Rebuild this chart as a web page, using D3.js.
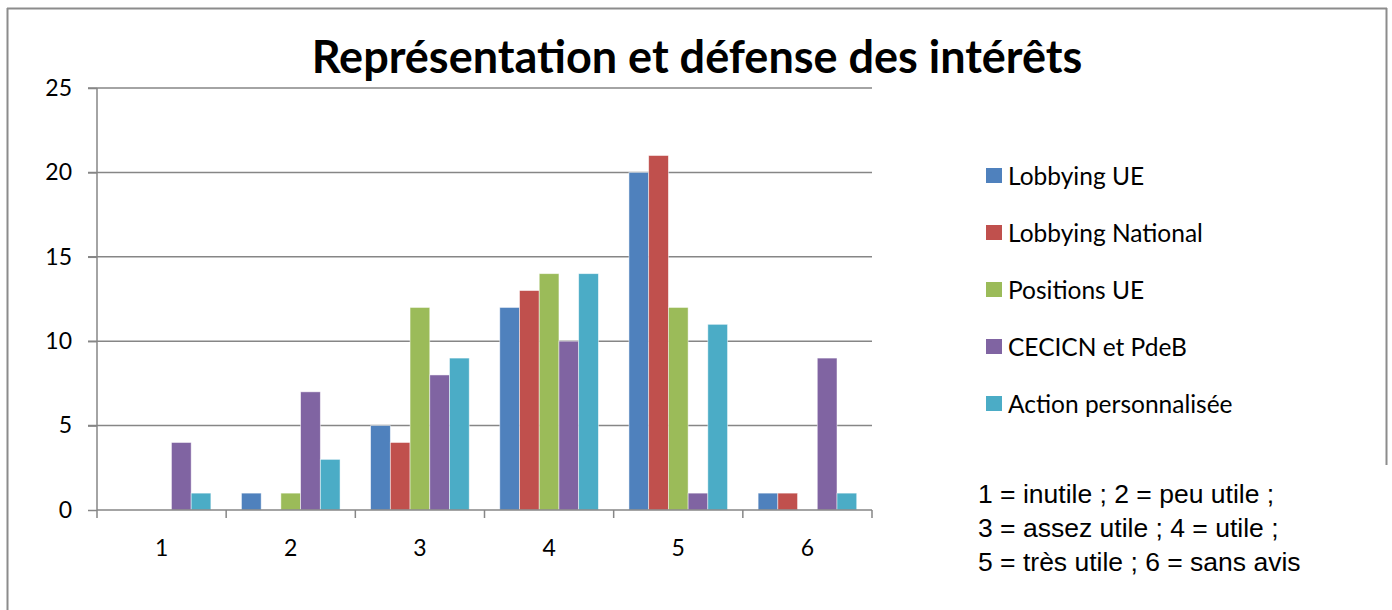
<!DOCTYPE html>
<html>
<head>
<meta charset="utf-8">
<script src="https://cdn.jsdelivr.net/npm/d3@7"></script>
<style>
body { margin: 0; background: #fff; }
svg { display: block; }
</style>
</head>
<body>
<script>
var categories = ['1', '2', '3', '4', '5', '6'];
var seriesNames = ['Lobbying UE', 'Lobbying National', 'Positions UE', 'CECICN et PdeB', 'Action personnalisée'];
var lobbyingUE = [0, 1, 5, 12, 20, 1];
var lobbyingNational = [0, 0, 4, 13, 21, 1];
var positionsUE = [0, 1, 12, 14, 12, 0];
var cecicn = [4, 7, 8, 10, 1, 9];
var actionPerso = [1, 3, 9, 14, 11, 1];
var yTicks = [0, 5, 10, 15, 20, 25];
var noteLines = ['1 = inutile ; 2 = peu utile ;', '3 = assez utile ; 4 = utile ;', '5 = très utile ; 6 = sans avis'];

var colors = ['#4F81BD', '#C0504D', '#9BBB59', '#8064A2', '#4BACC6'];
var allSeries = [lobbyingUE, lobbyingNational, positionsUE, cecicn, actionPerso];

var width = 1392, height = 610;
var margin = {left: 97, top: 88, right: 520, bottom: 100};
var w = 872 - margin.left, h = 510 - margin.top;

var svg = d3.select('body').append('svg').attr('width', width).attr('height', height);

// outer border
var gray = '#8c8c8c';
svg.append('line').attr('x1', 7.5).attr('x2', 7.5).attr('y1', 8).attr('y2', 610).attr('stroke', gray).attr('stroke-width', 2);
svg.append('line').attr('x1', 7).attr('x2', 1387).attr('y1', 8.5).attr('y2', 8.5).attr('stroke', gray).attr('stroke-width', 2);
svg.append('line').attr('x1', 1386.5).attr('x2', 1386.5).attr('y1', 8).attr('y2', 465).attr('stroke', gray).attr('stroke-width', 2);

svg.append('text').attr('x', 697).attr('y', 73)
	.attr('text-anchor', 'middle')
	.style('font-family', 'Lato, sans-serif').style('font-weight', 'bold').style('font-size', '45px')
	.text('Représentation et défense des intérêts');

var chartGroup = svg.append('g').attr('transform', `translate(${margin.left},${margin.top})`);

var x0 = d3.scaleBand().domain(categories).range([0, w]);
var x1 = d3.scaleBand().domain(d3.range(seriesNames.length)).range([0, x0.bandwidth()]).paddingOuter(0.775);
var y = d3.scaleLinear().domain([0, 25]).range([h, 0]);

// gridlines
chartGroup.append('g').selectAll('line')
	.data(yTicks.slice(1))
	.enter().append('line')
		.attr('x1', -9).attr('x2', w)
		.attr('y1', d => y(d)).attr('y2', d => y(d))
		.attr('stroke', '#868686').attr('stroke-width', 1.5);

// bars
var data = categories.map((c, i) => ({cat: c, values: allSeries.map(s => s[i])}));
chartGroup.selectAll('g.cat')
	.data(data)
	.enter().append('g')
		.attr('class', 'cat')
		.attr('transform', d => `translate(${x0(d.cat)},0)`)
	.selectAll('rect')
	.data(d => d.values.map((v, j) => ({v: v, j: j})))
	.enter().append('rect')
		.attr('x', d => x1(d.j))
		.attr('width', x1.bandwidth())
		.attr('y', d => y(d.v))
		.attr('height', d => h - y(d.v))
		.attr('fill', d => colors[d.j])
		.attr('stroke', 'rgba(255,255,255,0.6)').attr('stroke-width', 0.8);

// y axis
var yAxis = chartGroup.append('g')
	.call(d3.axisLeft(y).tickValues(yTicks).tickSize(9).tickPadding(16));
yAxis.select('.domain').attr('stroke', '#868686').attr('stroke-width', 1.5).attr('d', `M0,0V${h}`);
yAxis.selectAll('.tick line').attr('stroke', '#868686').attr('stroke-width', 1.5);
yAxis.selectAll('text').style('font-family', 'Lato, sans-serif').style('font-size', '23px').attr('fill', '#000');

// x axis
var xAxis = chartGroup.append('g').attr('transform', `translate(0,${h})`)
	.call(d3.axisBottom(x0).tickSize(0).tickPadding(30));
xAxis.select('.domain').attr('stroke', '#868686').attr('stroke-width', 1.5).attr('d', `M0,0H${w}`);
xAxis.selectAll('text').style('font-family', 'Lato, sans-serif').style('font-size', '23px').attr('fill', '#000');
xAxis.selectAll('line.sep')
	.data(d3.range(categories.length + 1))
	.enter().append('line')
		.attr('class', 'sep')
		.attr('x1', d => d * x0.step()).attr('x2', d => d * x0.step())
		.attr('y1', 0).attr('y2', 8)
		.attr('stroke', '#868686').attr('stroke-width', 1.5);

// legend
var legend = svg.append('g').attr('transform', 'translate(986,176)');
var item = legend.selectAll('g')
	.data(seriesNames)
	.enter().append('g')
		.attr('transform', (d, i) => `translate(0,${i * 57})`);
item.append('rect').attr('x', 0).attr('y', -8).attr('width', 16).attr('height', 15)
	.attr('fill', (d, i) => colors[i]);
item.append('text').attr('x', 22).attr('y', 0).attr('dy', '0.35em')
	.style('font-family', 'Lato, sans-serif').style('font-size', '24.5px')
	.text(d => d);

// note
svg.append('g').selectAll('text')
	.data(noteLines)
	.enter().append('text')
		.attr('x', 978).attr('y', (d, i) => 494 + i * 34).attr('dy', '0.35em')
		.style('font-family', '"Liberation Sans", Arial, sans-serif').style('font-size', '26.5px')
		.text(d => d);
</script>
</body>
</html>
